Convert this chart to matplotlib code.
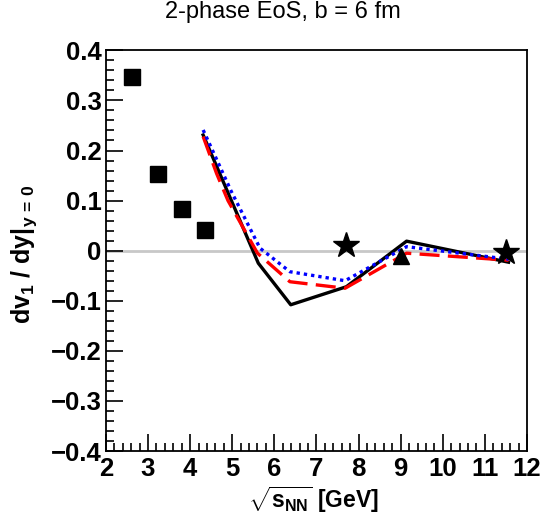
import matplotlib
matplotlib.use("Agg")
import matplotlib.pyplot as plt
from matplotlib.ticker import AutoMinorLocator

plt.rcParams['font.family'] = ['Liberation Sans', 'DejaVu Sans']
plt.rcParams['mathtext.fontset'] = 'custom'
plt.rcParams['mathtext.rm'] = 'Liberation Sans:bold'
plt.rcParams['mathtext.it'] = 'Liberation Sans:bold'
plt.rcParams['mathtext.bf'] = 'Liberation Sans:bold'

# Data
sq_x = [2.63, 3.25, 3.8, 4.35]
sq_y = [0.347, 0.153, 0.083, 0.041]
star_x = [7.7, 11.5]
star_y = [0.011, -0.002]
tri_x = [9.0]
tri_y = [-0.011]

black_x = [4.31, 5.62, 6.39, 7.71, 9.14, 11.56]
black_y = [0.231, -0.025, -0.108, -0.072, 0.019, -0.023]

blue_x = [4.31, 4.98, 5.66, 6.37, 7.68, 9.14, 11.56]
blue_y = [0.241, 0.118, 0.005, -0.042, -0.060, 0.008, -0.017]

red_x = [4.31, 4.63, 4.9, 5.6, 6.37, 7.68, 9.14, 11.56]
red_y = [0.228, 0.154, 0.10, -0.005, -0.062, -0.075, -0.005, -0.019]

yticks = [-0.4, -0.3, -0.2, -0.1, 0, 0.1, 0.2, 0.3, 0.4]
ylabels = ['\u22120.4', '\u22120.3', '\u22120.2', '\u22120.1', '0', '0.1', '0.2', '0.3', '0.4']
xticks = list(range(2, 13))

fig = plt.figure(figsize=(5.40, 5.19), dpi=100)
ax = fig.add_axes([0.196, 0.131, 0.78, 0.772])

ax.axhline(0, color='#c8c8c8', lw=2.0, zorder=1)

ax.plot(black_x, black_y, color='black', lw=2.4, zorder=3)
ax.plot(red_x, red_y, color='#ff0000', lw=2.4, dashes=(6, 2.5), zorder=3)
ax.plot(blue_x, blue_y, color='#0000ff', lw=2.4, dashes=(1, 1.2), zorder=4)

ax.plot(sq_x, sq_y, 's', color='black', ms=12, zorder=5)
ax.plot(star_x, star_y, '*', color='black', ms=19, zorder=5)
ax.plot(tri_x, tri_y, '^', color='black', ms=12, zorder=5)

ax.set_xlim(2, 12)
ax.set_ylim(-0.4, 0.4)
ax.set_xticks(xticks)
ax.set_xticklabels([str(t) for t in xticks])
ax.set_yticks(yticks)
ax.set_yticklabels(ylabels)
ax.xaxis.set_minor_locator(AutoMinorLocator(5))
ax.yaxis.set_minor_locator(AutoMinorLocator(5))
ax.tick_params(which='both', direction='in', top=False, right=False, width=1.2)
ax.tick_params(which='major', length=12, labelsize=18.5)
ax.tick_params(axis='y', which='major', pad=3)
ax.tick_params(axis='x', which='major', pad=4)
ax.tick_params(which='minor', length=6)
for lab in ax.get_xticklabels() + ax.get_yticklabels():
    lab.set_fontweight('bold')
for s in ax.spines.values():
    s.set_linewidth(1.3)

fig.text(0.58, 0.038, r'$\sqrt{s_{NN}}$ [GeV]', fontsize=16.5, fontweight='bold',
         ha='center', va='center')
fig.text(0.045, 0.51, r'dv$_{1}$ / dy|$_{y\,=\,0}$', fontsize=18, fontweight='bold',
         ha='center', va='center', rotation=90)
fig.text(0.523, 0.976, '2-phase EoS, b = 6 fm', ha='center', va='center', fontsize=17)

fig.savefig('out.png', dpi=100)
